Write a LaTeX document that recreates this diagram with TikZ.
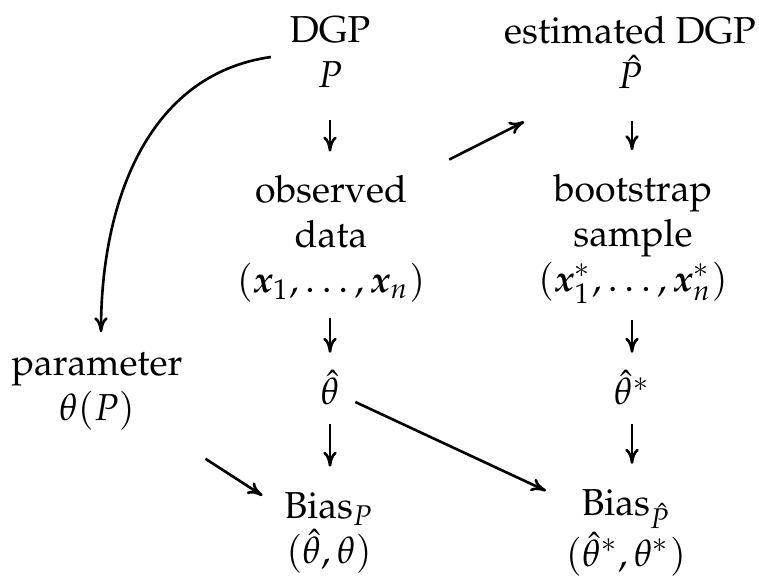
\documentclass[tikz,border=0pt]{standalone}
\usepackage{amsmath}
\usepackage[T1]{fontenc}
\usepackage{mathpazo}
\usepackage{bm}
\usetikzlibrary{positioning,arrows.meta}
\tikzset{
  stage/.style={align=center,inner sep=0pt,outer sep=0pt},
  arrow/.style={-{To[length=4pt,width=3.6pt]},line width=0.7pt},
}

\begin{document}
\begin{tikzpicture}[x=0.2667pt,y=-0.2667pt]
  \useasboundingbox (0,0) rectangle (759,575);
  % top row: the true and the estimated DGP
  \node[stage] (dgp)  at (330,52.5) {DGP\\$P$};
  \node[stage] (est)  at (630,52.5) {estimated DGP\\$\hat{P}$};
  % samples
  \node[stage] (obs)  at (331,239) {observed\\data\\$(\bm{x}_1,\dots,\bm{x}_n)$};
  \node[stage] (boot) at (633,239) {bootstrap\\sample\\$(\bm{x}_1^*,\dots,\bm{x}_n^*)$};
  % estimates
  \node[stage] (param) at (97,392) {parameter\\$\theta(P)$};
  \node[stage] (th)    at (330,388) {$\hat{\theta}$};
  \node[stage] (ths)   at (632,388) {$\hat{\theta}^*$};
  % bias
  \node[stage] (biasP)  at (329,533) {Bias$_P$\\$(\hat{\theta},\theta)$};
  \node[stage] (biasPh) at (626,533) {Bias$_{\hat{P}}$\\$(\hat{\theta}^*,\theta^*)$};

  \draw[arrow] ([shift={(0,32)}]dgp.south) -- ([shift={(-1,-24)}]obs.north);
  \draw[arrow] ([shift={(2,32)}]est.south) -- ([shift={(-1,-24)}]boot.north);
  \draw[arrow] ([shift={(24,-16)}]obs.north east) -- ([shift={(20,33)}]est.south west);
  \draw[arrow] ([shift={(-1,16)}]obs.south) -- ([shift={(0,-18)}]th.north);
  \draw[arrow] ([shift={(-1,16)}]boot.south) -- ([shift={(0,-18)}]ths.north);
  \draw[arrow] ([shift={(0,19)}]th.south) -- ([shift={(1,-26)}]biasP.north);
  \draw[arrow] ([shift={(0,19)}]ths.south) -- ([shift={(6,-26)}]biasPh.north);
  \draw[arrow] ([shift={(16,14)}]th.east) -- ([shift={(-20,1)}]biasPh.north west);
  \draw[arrow] ([shift={(23,28)}]param.south east) -- ([shift={(-22,3)}]biasP.north west);
  \draw[arrow] ([shift={(-19,4.5)}]dgp.west) to[out=188,in=90] ([shift={(4,-21)}]param.north);
\end{tikzpicture}
\end{document}
